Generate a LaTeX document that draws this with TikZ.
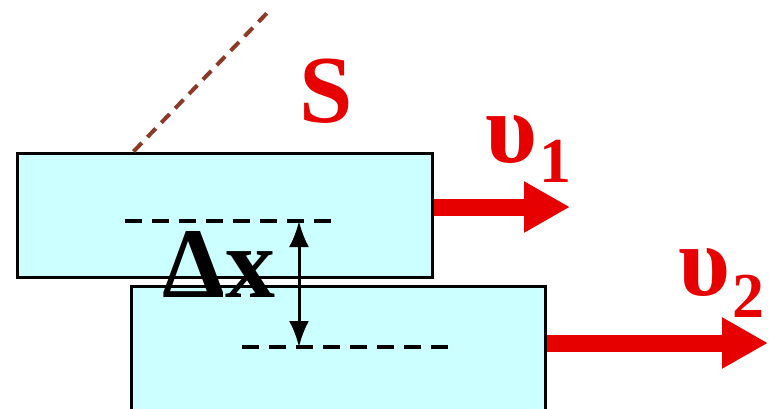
\documentclass[tikz,border=0pt]{standalone}
\usepackage{fontspec}
\setmainfont{Liberation Serif}
\usetikzlibrary{arrows.meta,calc}
\definecolor{icepop}{HTML}{CCFFFF}
\definecolor{redpop}{HTML}{E60000}
\definecolor{rustpop}{HTML}{8A3A28}

\begin{document}
\begin{tikzpicture}[x=0.5pt, y=-0.5pt,
  layer/.style={draw=black, line width=1.5pt, fill=icepop, minimum width=207.5pt, minimum height=62pt, inner sep=0pt},
  level/.style={dash pattern=on 8.5pt off 5pt, line width=2pt},
  speed/.style={-{Triangle[length=23pt,width=24pt]}, line width=8.5pt, color=redpop},
  biglabel/.style={inner sep=0pt, anchor=base west, font=\fontsize{50}{50}\selectfont\bfseries}]
\useasboundingbox (0,0) rectangle (769,408);
\node[layer, minimum width=207pt, minimum height=64pt] (b2) at (338,350) {};
\node[layer] (b1) at (224.5,215) {};
% shear plane S
\coordinate (stop) at (268,12);
\draw[rustpop, line width=2pt, dash pattern=on 6pt off 4pt] ($(b1.north west)+(118,0)$) -- (stop);
\node[biglabel, text=redpop, font=\fontsize{48}{48}\selectfont\bfseries] (S) at (299,122) {S};
% distance between the layers
\coordinate (h1) at (299,221);
\coordinate (h2) at (299,347);
\draw[level] ($(h1)+(-174,0)$) -- ($(h1)+(39,0)$);
\draw[level] ($(h2)+(-57,0)$) -- ($(h2)+(154,0)$);
\draw[{Latex[length=13pt,width=10pt]}-{Latex[length=13pt,width=10pt]}, line width=1.5pt] (h1) -- (h2);
\node[biglabel] (dx) at (162,297) {Δx};
% velocities
\coordinate (v1tip) at (570,207);
\coordinate (v2tip) at (768,343);
\draw[speed] (b1.east |- v1tip) -- (v1tip);
\draw[speed] (b2.east |- v2tip) -- (v2tip);
\node[biglabel, text=redpop] (u1) at (485,162) {υ\kern1pt\raisebox{-10pt}{\fontsize{32}{32}\selectfont 1}};
\node[biglabel, text=redpop] (u2) at (678,295) {υ\kern1pt\raisebox{-11pt}{\fontsize{32}{32}\selectfont 2}};
\end{tikzpicture}
\end{document}
